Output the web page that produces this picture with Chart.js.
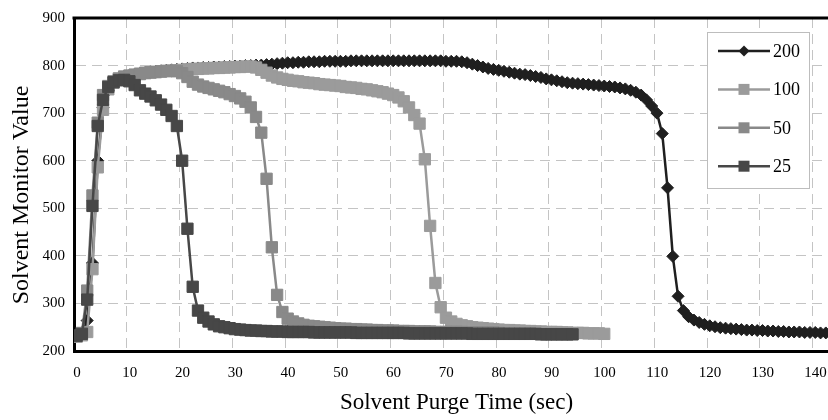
<!DOCTYPE html>
<html>
<head>
<meta charset="utf-8">
<script src="https://cdn.jsdelivr.net/npm/chart.js@4.4.1/dist/chart.umd.min.js"></script>
<style>
html, body { margin: 0; padding: 0; background: #fff; overflow: hidden; }
#wrap { width: 848px; height: 420px; }
</style>
</head>
<body>
<div id="wrap"><canvas id="purge" width="848" height="420"></canvas></div>
<script>
// sample times (sec)
const times = [
    0.5, 1.5, 2.5, 3.5, 4.5, 5.5, 6.5, 7.5, 8.5, 9.5,
    10.5, 11.5, 12.5, 13.5, 14.5, 15.5, 16.5, 17.5, 18.5, 19.5,
    20.5, 21.5, 22.5, 23.5, 24.5, 25.5, 26.5, 27.5, 28.5, 29.5,
    30.5, 31.5, 32.5, 33.5, 34.5, 35.5, 36.5, 37.5, 38.5, 39.5,
    40.5, 41.5, 42.5, 43.5, 44.5, 45.5, 46.5, 47.5, 48.5, 49.5,
    50.5, 51.5, 52.5, 53.5, 54.5, 55.5, 56.5, 57.5, 58.5, 59.5,
    60.5, 61.5, 62.5, 63.5, 64.5, 65.5, 66.5, 67.5, 68.5, 69.5,
    70.5, 71.5, 72.5, 73.5, 74.5, 75.5, 76.5, 77.5, 78.5, 79.5,
    80.5, 81.5, 82.5, 83.5, 84.5, 85.5, 86.5, 87.5, 88.5, 89.5,
    90.5, 91.5, 92.5, 93.5, 94.5, 95.5, 96.5, 97.5, 98.5, 99.5,
    100.5, 101.5, 102.5, 103.5, 104.5, 105.5, 106.5, 107.5, 108.5, 109.5,
    110.5, 111.5, 112.5, 113.5, 114.5, 115.5, 116.5, 117.5, 118.5, 119.5,
    120.5, 121.5, 122.5, 123.5, 124.5, 125.5, 126.5, 127.5, 128.5, 129.5,
    130.5, 131.5, 132.5, 133.5, 134.5, 135.5, 136.5, 137.5, 138.5, 139.5,
    140.5, 141.5, 142.5
];

const seriesNames = ['200', '100', '50', '25'];

const purge200 = [
    230, 234, 264, 385, 600, 712, 748, 763, 771, 776,
    779, 781, 783, 785, 787, 788, 789, 790, 791, 792,
    793, 794, 795, 795, 796, 796, 797, 797, 798, 798,
    799, 799, 800, 800, 801, 801, 802, 803, 804, 805,
    806, 806, 807, 807, 808, 808, 808, 809, 809, 809,
    809, 809, 810, 810, 810, 810, 810, 810, 810, 810,
    810, 810, 810, 810, 810, 810, 810, 810, 810, 810,
    809, 809, 809, 808, 806, 803, 800, 797, 794, 792,
    790, 788, 786, 784, 782, 781, 779, 777, 775, 772,
    770, 768, 766, 764, 763, 762, 761, 760, 759, 758,
    757, 756, 755, 753, 751, 748, 744, 738, 728, 715,
    700, 657, 543, 399, 315, 285, 272, 265, 260, 256,
    253, 251, 249, 248, 247, 246, 245, 244, 244, 243,
    243, 242, 242, 241, 241, 240, 240, 240, 239, 239,
    239, 238, 238
];

const purge100 = [
    230, 233, 240, 372, 586, 707, 750, 764, 771, 775,
    778, 780, 782, 784, 785, 786, 787, 788, 789, 790,
    791, 792, 793, 793, 794, 794, 795, 795, 796, 796,
    797, 797, 798, 798, 796, 791, 785, 779, 775, 772,
    770, 768, 767, 765, 764, 763, 761, 760, 759, 758,
    757, 755, 754, 753, 751, 750, 748, 746, 744, 741,
    738, 733, 725, 712, 696, 678, 603, 463, 343, 292,
    270, 262, 257, 254, 252, 250, 249, 248, 247, 246,
    245, 244, 244, 243, 243, 242, 242, 241, 241, 240,
    240, 240, 239, 239, 238, 238, 238, 237, 237, 237,
    236
];

const purge50 = [
    232, 238, 327, 527, 680, 738, 757, 767, 773, 777,
    779, 781, 783, 785, 786, 787, 788, 789, 789, 788,
    784, 776, 766, 760, 756, 753, 750, 747, 744, 740,
    736, 731, 724, 712, 692, 659, 562, 418, 318, 282,
    268, 262, 258, 255, 253, 252, 251, 250, 249, 248,
    247, 247, 246, 246, 245, 245, 244, 244, 243, 243,
    243, 242, 242, 242, 241, 241, 241, 241, 240, 240,
    240, 240, 240, 240, 239, 239, 239, 239, 239, 239,
    238
];

const purge25 = [
    232, 236, 308, 505, 673, 728, 755, 765, 769, 770,
    767, 759, 748, 741, 735, 727, 718, 707, 694, 673,
    600, 457, 335, 285, 270, 262, 256, 252, 250, 248,
    246, 245, 244, 243, 243, 242, 242, 241, 241, 241,
    240, 240, 240, 240, 240, 239, 239, 239, 239, 239,
    239, 239, 239, 238, 238, 238, 238, 238, 238, 238,
    238, 238, 238, 237, 237, 237, 237, 237, 237, 237,
    237, 237, 237, 237, 237, 236, 236, 236, 236, 236,
    236, 236, 236, 236, 236, 236, 236, 236, 235, 235,
    235, 235, 235, 235, 235
];

const xTicks = [0, 10, 20, 30, 40, 50, 60, 70, 80, 90, 100, 110, 120, 130, 140];
const yTicks = [200, 300, 400, 500, 600, 700, 800, 900];

const serif = '"Liberation Serif", "Times New Roman", serif';

function pairs(values) {
    return values.map(function(v, i) { return {x: times[i], y: v}; });
}

// top edge of the plot frame
const frameTop = {
    id: 'frameTop',
    afterDraw(chart) {
        const {ctx, chartArea} = chart;
        ctx.save();
        ctx.strokeStyle = '#000';
        ctx.lineWidth = 3;
        ctx.beginPath();
        ctx.moveTo(chartArea.left - 1.5, chartArea.top);
        ctx.lineTo(chartArea.right, chartArea.top);
        ctx.stroke();
        ctx.restore();
    }
};

// y axis title, placed by hand
const sideTitle = {
    id: 'sideTitle',
    afterDraw(chart) {
        const ctx = chart.ctx;
        ctx.save();
        ctx.translate(22, 195);
        ctx.rotate(-Math.PI / 2);
        ctx.font = '24px ' + serif;
        ctx.fillStyle = '#000';
        ctx.textAlign = 'center';
        ctx.textBaseline = 'middle';
        ctx.fillText('Solvent Monitor Value', 0, 0);
        ctx.restore();
    }
};

// legend box inside the plot, top right
const boxLegend = {
    id: 'boxLegend',
    afterDraw(chart) {
        const ctx = chart.ctx;
        ctx.save();
        ctx.fillStyle = '#fff';
        ctx.fillRect(707, 32, 102, 156);
        ctx.strokeStyle = '#bdbdbd';
        ctx.lineWidth = 1;
        ctx.strokeRect(707.5, 32.5, 102, 156);
        chart.data.datasets.forEach(function(ds, i) {
            const y = 51 + i * 38.4;
            const mx = 744;
            ctx.strokeStyle = ds.borderColor;
            ctx.lineWidth = ds.borderWidth;
            ctx.beginPath();
            ctx.moveTo(718, y);
            ctx.lineTo(770, y);
            ctx.stroke();
            ctx.fillStyle = ds.pointBackgroundColor;
            ctx.beginPath();
            if (ds.pointStyle === 'rectRot') {
                const r = 5.5;
                ctx.moveTo(mx - r, y);
                ctx.lineTo(mx, y - r);
                ctx.lineTo(mx + r, y);
                ctx.lineTo(mx, y + r);
                ctx.closePath();
            } else {
                const h = 5.5;
                ctx.rect(mx - h, y - h, 2 * h, 2 * h);
            }
            ctx.fill();
            ctx.fillStyle = '#000';
            ctx.font = '18px ' + serif;
            ctx.textAlign = 'left';
            ctx.textBaseline = 'middle';
            ctx.fillText(ds.label, 773, y + 1);
        });
        ctx.restore();
    }
};

const colors = ['#1f1f1f', '#9b9b9b', '#898989', '#474747'];
const shapes = ['rectRot', 'rect', 'rect', 'rect'];
const radii = [6, 8, 8, 8];
const values = [purge200, purge100, purge50, purge25];

const canvas = document.getElementById('purge');

const chart = new Chart(canvas, {
    type: 'line',
    data: {
        datasets: seriesNames.map(function(name, i) {
            return {
                label: name,
                data: pairs(values[i]),
                borderColor: colors[i],
                backgroundColor: colors[i],
                borderWidth: 2.5,
                pointStyle: shapes[i],
                pointRadius: radii[i],
                pointBackgroundColor: colors[i],
                pointBorderColor: colors[i],
                pointBorderWidth: 1,
                tension: 0,
                fill: false,
                order: seriesNames.length - i
            };
        })
    },
    options: {
        responsive: false,
        animation: false,
        events: [],
        layout: {
            padding: {top: 14, left: 0, right: 0, bottom: 0}
        },
        plugins: {
            legend: {display: false},
            tooltip: {enabled: false}
        },
        scales: {
            x: {
                type: 'linear',
                min: 0,
                max: 145,
                afterFit: function(scale) { scale.height = 69; },
                afterBuildTicks: function(scale) {
                    scale.ticks = xTicks.map(function(v) { return {value: v}; });
                },
                grid: {
                    color: '#c4c4c4',
                    lineWidth: 1,
                    drawTicks: false
                },
                border: {display: true, color: '#000', width: 3, dash: [10, 6]},
                ticks: {
                    padding: 13,
                    labelOffset: 3,
                    color: '#000',
                    maxRotation: 0,
                    font: {family: serif, size: 15}
                },
                title: {
                    display: true,
                    text: 'Solvent Purge Time (sec)',
                    color: '#000',
                    padding: {top: 0, bottom: 3},
                    font: {family: serif, size: 23}
                }
            },
            y: {
                min: 200,
                max: 900,
                afterFit: function(scale) { scale.width = 74; },
                afterBuildTicks: function(scale) {
                    scale.ticks = yTicks.map(function(v) { return {value: v}; });
                },
                grid: {
                    color: '#c4c4c4',
                    lineWidth: 1,
                    drawTicks: false
                },
                border: {display: true, color: '#000', width: 3, dash: [10, 6]},
                ticks: {
                    padding: 9,
                    color: '#000',
                    font: {family: serif, size: 15}
                }
            }
        }
    },
    plugins: [frameTop, sideTitle, boxLegend]
});
</script>
</body>
</html>
